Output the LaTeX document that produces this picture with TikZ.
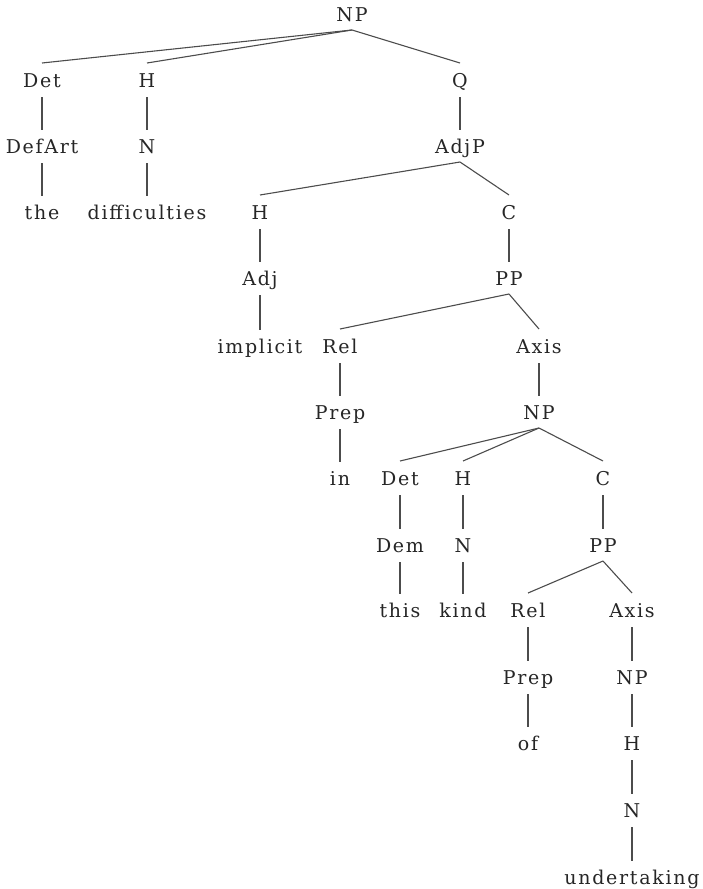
\documentclass[tikz,border=0pt]{standalone}
\usepackage{fontspec}
\setmainfont[LetterSpace=9]{DejaVu Serif}
\begin{document}
\begin{tikzpicture}[x=1pt,y=-1pt,
  lbl/.style={anchor=base,inner sep=0pt,text=black!85,font=\fontsize{19}{22}\selectfont},
  br/.style={draw=black!70,line width=1.1pt}]
\useasboundingbox (0,0) rectangle (702,889);
\def\n(#1,#2,#3,#4){\node[lbl] (#1) at (#2,#3+7) {#4};}
% level 0
\n(np0,352,14,NP)
% level 1
\n(det1,42,80,Det) \n(h1,147,80,H) \n(q1,460,80,Q)
\n(defart,42,146,DefArt) \n(n1,147,146,N) \n(adjp,460,146,AdjP)
\n(the,42,212,the) \n(diff,147,212,difficulties) \n(h2,260,212,H) \n(c2,509,212,C)
\n(adj,260,278,Adj) \n(pp2,509,278,PP)
\n(impl,260,346,implicit) \n(rel3,340,346,Rel) \n(axis3,539,346,Axis)
\n(prep3,340,412,Prep) \n(np3,539,412,NP)
\n(in,340,478,in) \n(det4,400,478,Det) \n(h4,463,478,H) \n(c4,603,478,C)
\n(dem,400,545,Dem) \n(n4,463,545,N) \n(pp4,603,545,PP)
\n(this,400,610,this) \n(kind,463,610,kind) \n(rel5,528,610,Rel) \n(axis5,632,610,Axis)
\n(prep5,528,677,Prep) \n(np5,632,677,NP)
\n(of,528,743,of) \n(h5,632,743,H)
\n(n5,632,810,N)
\n(und,632,877,undertaking)
\def\e(#1,#2){\draw[br] ([yshift=-9pt]#1.base) -- ([yshift=24pt]#2.base);}
\def\v(#1,#2){\draw[br] ([yshift=-10pt]#1.base) -- ([yshift=23pt]#2.base);}
\e(np0,det1) \e(np0,h1) \e(np0,q1)
\v(det1,defart) \v(defart,the) \v(h1,n1) \v(n1,diff) \v(q1,adjp)
\e(adjp,h2) \e(adjp,c2)
\v(h2,adj) \v(adj,impl) \v(c2,pp2)
\e(pp2,rel3) \e(pp2,axis3)
\v(rel3,prep3) \v(prep3,in) \v(axis3,np3)
\e(np3,det4) \e(np3,h4) \e(np3,c4)
\v(det4,dem) \v(dem,this) \v(h4,n4) \v(n4,kind) \v(c4,pp4)
\e(pp4,rel5) \e(pp4,axis5)
\v(rel5,prep5) \v(prep5,of) \v(axis5,np5) \v(np5,h5) \v(h5,n5) \v(n5,und)
\end{tikzpicture}
\end{document}
